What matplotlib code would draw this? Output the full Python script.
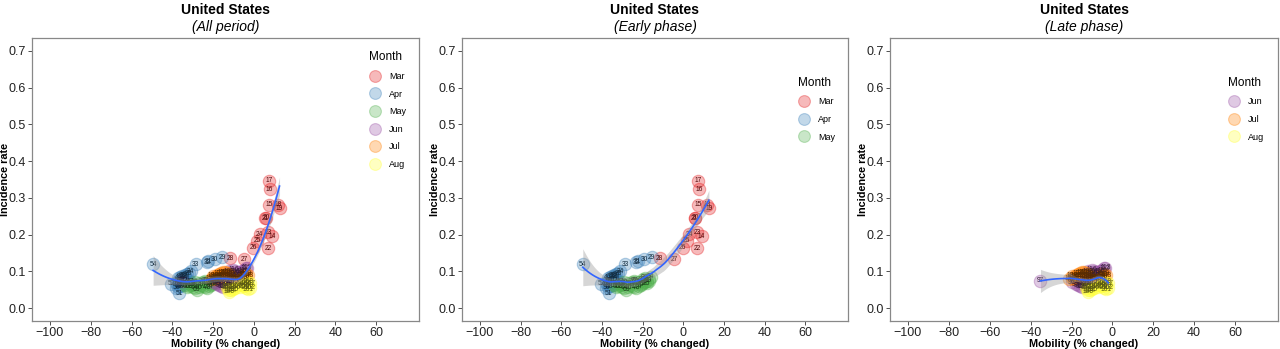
import numpy as np
import matplotlib
matplotlib.use("Agg")
import matplotlib.pyplot as plt
from matplotlib.lines import Line2D
from matplotlib.colors import to_rgb

plt.rcParams['font.family'] = ['Liberation Sans', 'DejaVu Sans']

# ---------------- data (day index, mobility % change, incidence rate) -------------
mar_day = [14, 15, 16, 17, 18, 19, 20, 21, 22, 23, 24, 25, 26, 27, 28]
mar_mob = [9.0, 7.3, 7.7, 7.3, 11.7, 12.6, 6.0, 5.6, 6.9, 6.9, 2.8, 1.6, -0.2, -4.6, -11.6]
mar_inc = [0.195, 0.281, 0.323, 0.346, 0.281, 0.272, 0.246, 0.244, 0.163, 0.207, 0.201, 0.184, 0.164, 0.133, 0.136]

apr_day = list(range(29, 59))
apr_mob = [-15.5, -19.2, -22.5, -23.0, -28.5, -31, -32, -33, -34, -35, -36, -37, -35, -34, -36,
           -37, -38, -33, -35, -36, -37, -38, -36.7, -40.5, -34, -49.4, -37, -33, -31, -30]
apr_inc = [0.138, 0.133, 0.127, 0.125, 0.120, 0.100, 0.095, 0.092, 0.090, 0.088, 0.085, 0.082, 0.078, 0.075, 0.072,
           0.070, 0.068, 0.068, 0.064, 0.060, 0.058, 0.055, 0.041, 0.066, 0.085, 0.120, 0.075, 0.078, 0.072, 0.066]

may_day = list(range(59, 90))
may_mob = [-34, -33, -32, -31, -30, -29, -28, -27, -30, -29, -27, -26, -25, -24, -23, -22,
           -21, -25, -24, -22, -20, -19, -18, -20, -17, -16, -18, -21, -23, -19, -17]
may_inc = [0.062, 0.058, 0.060, 0.063, 0.058, 0.055, 0.050, 0.057, 0.066, 0.070, 0.068, 0.064, 0.060, 0.058, 0.055, 0.060,
           0.063, 0.072, 0.075, 0.070, 0.068, 0.072, 0.075, 0.078, 0.080, 0.085, 0.068, 0.066, 0.072, 0.082, 0.074]

jun_day = list(range(90, 120))
jun_mob = [-18, -17, -16, -15, -14, -13, -20, -35.2, -12, -11, -10, -14, -13, -12, -11,
           -10, -9, -12, -8, -7, -6, -5, -4, -3.5, -6, -8, -10, -15, -16, -9]
jun_inc = [0.065, 0.062, 0.060, 0.058, 0.062, 0.065, 0.070, 0.074, 0.068, 0.070, 0.072, 0.075, 0.080, 0.085, 0.090,
           0.095, 0.100, 0.100, 0.098, 0.095, 0.100, 0.103, 0.108, 0.110, 0.090, 0.088, 0.105, 0.068, 0.072, 0.080]

jul_day = list(range(120, 151))
jul_mob = [-19, -20, -21, -18, -17, -16, -15, -14, -13, -12, -11, -20, -19, -18, -17, -16,
           -15, -14, -13, -12, -11, -10, -9, -8, -7, -6, -5, -4, -3, -4, -5]
jul_inc = [0.085, 0.082, 0.080, 0.090, 0.093, 0.095, 0.097, 0.098, 0.096, 0.094, 0.092, 0.088, 0.078, 0.082, 0.085, 0.088,
           0.090, 0.088, 0.086, 0.084, 0.082, 0.080, 0.078, 0.080, 0.082, 0.084, 0.086, 0.088, 0.090, 0.094, 0.092]

aug_day = list(range(151, 171))
aug_mob = [-13, -12, -12, -11, -10, -9, -13, -11, -5, -4, -3, -2, -3, -4, -5, -6, -2, -3, -8, -7]
aug_inc = [0.055, 0.050, 0.045, 0.048, 0.052, 0.056, 0.060, 0.058, 0.060, 0.055, 0.052, 0.056, 0.062, 0.066, 0.070,
           0.064, 0.068, 0.072, 0.062, 0.058]

months = ['Mar', 'Apr', 'May', 'Jun', 'Jul', 'Aug']
month_colors = ['#E41A1C', '#377EB8', '#4DAF4A', '#984EA3', '#FF7F00', '#FFFF33']
month_data = {
    'Mar': (mar_day, mar_mob, mar_inc),
    'Apr': (apr_day, apr_mob, apr_inc),
    'May': (may_day, may_mob, may_inc),
    'Jun': (jun_day, jun_mob, jun_inc),
    'Jul': (jul_day, jul_mob, jul_inc),
    'Aug': (aug_day, aug_mob, aug_inc),
}
panels = [('(All period)', months),
          ('(Early phase)', ['Mar', 'Apr', 'May']),
          ('(Late phase)', ['Jun', 'Jul', 'Aug'])]

x_ticks = [-100, -80, -60, -40, -20, 0, 20, 40, 60]
y_ticks = [0.0, 0.1, 0.2, 0.3, 0.4, 0.5, 0.6, 0.7]


def loess(x, y, xs, span=0.75):
    x = np.asarray(x, float); y = np.asarray(y, float)
    n = len(x)
    q = int(np.floor(n * span))

    def weights_row(x0):
        d = np.abs(x - x0)
        h = np.sort(d)[q - 1]
        h = max(h, 1e-9)
        w = np.clip(1 - (d / h) ** 3, 0, None) ** 3
        X = np.column_stack([np.ones(n), x - x0, (x - x0) ** 2])
        XtW = X.T * w
        A = XtW @ X
        l = np.linalg.pinv(A) @ XtW
        return l[0]

    L = np.array([weights_row(v) for v in x])
    res = y - L @ y
    IL = np.eye(n) - L
    d1 = np.trace(IL.T @ IL)
    sigma = np.sqrt(np.sum(res ** 2) / d1)
    fit, se = [], []
    for v in xs:
        l = weights_row(v)
        fit.append(l @ y)
        se.append(sigma * np.sqrt(np.sum(l ** 2)))
    return np.array(fit), np.array(se)


def darker(c, f=0.35):
    r, g, b = to_rgb(c)
    return (r * f, g * f, b * f)


fig = plt.figure(figsize=(12.8, 3.49), dpi=100)
lefts = [32 / 1280, 462 / 1280, 890 / 1280]
widths = [387 / 1280, 386 / 1280, 388 / 1280]
bottom = 1 - 321 / 349
height = (321 - 38) / 349
legend_tops = [0.975, 0.885, 0.885]

for i, (sub, mlist) in enumerate(panels):
    ax = fig.add_axes([lefts[i], bottom, widths[i], height])
    allx, ally = [], []
    for m in mlist:
        c = month_colors[months.index(m)]
        d, xm, ym = month_data[m]
        allx += xm; ally += ym
        ax.scatter(xm, ym, s=80, facecolor=to_rgb(c) + (0.3,), edgecolor=to_rgb(c) + (0.35,),
                   linewidths=0.8, zorder=2)
    for m in mlist:
        c = month_colors[months.index(m)]
        d, xm, ym = month_data[m]
        for dd, xx, yy in zip(d, xm, ym):
            ax.text(xx, yy, str(dd), fontsize=4.8, color=darker(c), ha='center', va='center', zorder=3)
    xs = np.linspace(min(allx), max(allx), 100)
    fit, se = loess(allx, ally, xs)
    ax.fill_between(xs, fit - 1.97 * se, fit + 1.97 * se, color='#999999', alpha=0.4, lw=0, zorder=4)
    ax.plot(xs, fit, color='#3366FF', lw=1.2, zorder=5)

    ax.set_xlim(-108.8, 81)
    ax.set_ylim(-0.035, 0.735)
    ax.set_xticks(x_ticks)
    ax.set_xticklabels(['\u2212100', '\u221280', '\u221260', '\u221240', '\u221220', '0', '20', '40', '60'])
    ax.set_yticks(y_ticks)
    ax.set_yticklabels([f'{v:.1f}' for v in y_ticks])
    ax.tick_params(labelsize=9, colors='#333333', length=3, width=0.6, pad=1.5, labelcolor='#222222')
    for s in ax.spines.values():
        s.set_color('#888888'); s.set_linewidth(0.9)
    ax.set_xlabel('Mobility (% changed)', fontsize=7.8, fontweight='bold')
    ax.xaxis.set_label_coords(0.5, -0.064)
    ax.set_ylabel('Incidence rate', fontsize=7.8, fontweight='bold')
    ax.yaxis.set_label_coords(-0.056, 0.5)
    ax.text(0.5, 1.1, 'United States', transform=ax.transAxes, ha='center', va='center',
            fontsize=10, fontweight='bold')
    ax.text(0.5, 1.038, sub, transform=ax.transAxes, ha='center', va='center',
            fontsize=10, fontstyle='italic')

    handles = []
    for m in mlist:
        c = month_colors[months.index(m)]
        handles.append(Line2D([], [], ls='none', marker='o', markersize=8.5,
                              markerfacecolor=to_rgb(c) + (0.3,), markeredgecolor=to_rgb(c) + (0.35,),
                              markeredgewidth=0.8))
    leg = ax.legend(handles, mlist, title='Month', loc='upper left',
                    bbox_to_anchor=(0.855, legend_tops[i]), frameon=False,
                    fontsize=6.5, title_fontsize=8.5, labelspacing=0.95,
                    handletextpad=0.9, handlelength=1.3, borderpad=0.2)
    leg._legend_box.align = 'left'

fig.savefig('out.png', dpi=100)
